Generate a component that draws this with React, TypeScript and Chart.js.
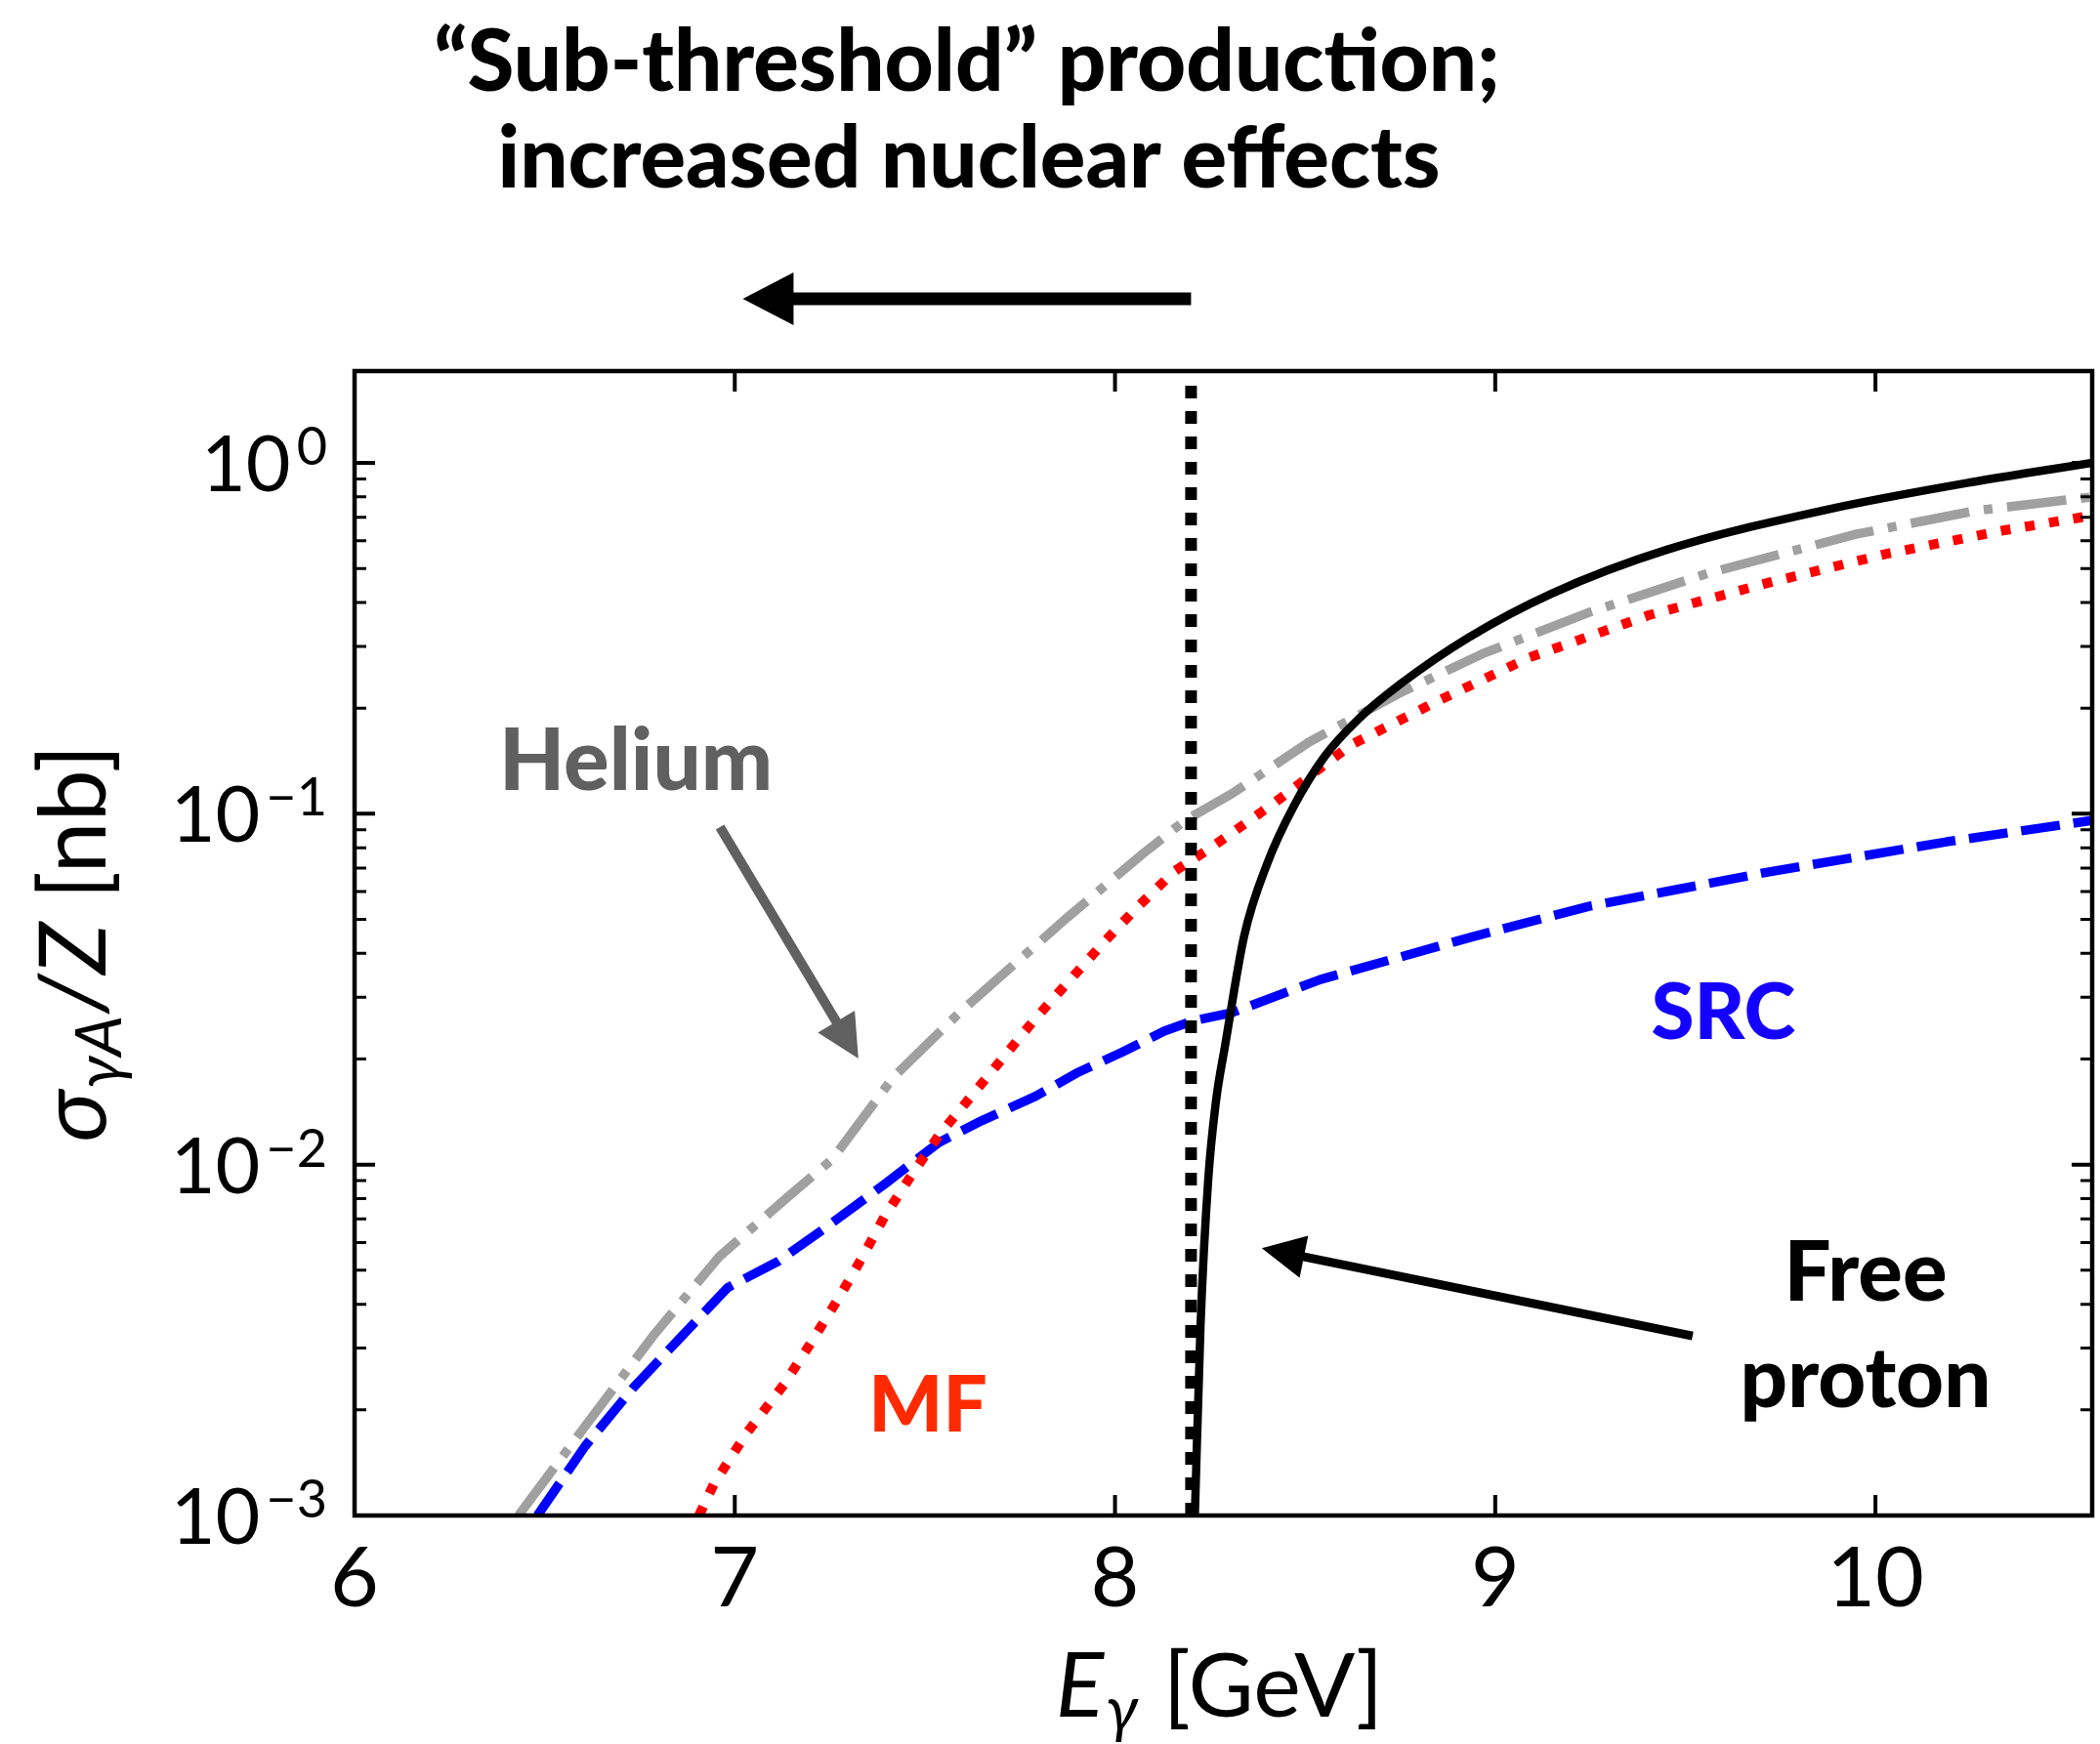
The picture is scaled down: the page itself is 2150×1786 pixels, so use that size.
import React, { useEffect, useRef } from "react";
import { Chart, registerables } from "chart.js";

Chart.register(...registerables);

// ---------- axis ranges & ticks ----------
const xMin = 6;
const xMax = 10.57;
const yMin = 1e-3;
const yMax = 1.827;
const xTickValues = [6, 7, 8, 9, 10];
const xTickLabels = ["6", "7", "8", "9", "10"];
const yTickExponents = [-3, -2, -1, 0];
const yTickExpLabels = ["\u22123", "\u22122", "\u22121", "0"];

// ---------- data ----------
const thresholdEnergy = [8.2, 8.2];
const thresholdSigma = [1e-3, 1.827];

const freeProtonEnergy = [8.21, 8.225, 8.245, 8.265, 8.29, 8.34, 8.4, 8.47, 8.55, 8.64, 8.75, 8.93, 9.15, 9.45, 9.87, 10.25, 10.57];
const freeProtonSigma = [0.001, 0.0035, 0.009, 0.015, 0.022, 0.045, 0.072, 0.105, 0.145, 0.186, 0.234, 0.318, 0.425, 0.565, 0.735, 0.88, 1.0];

const heliumEnergy = [6.431, 6.607, 6.79, 6.96, 7.143, 7.256, 7.418, 7.594, 7.876, 8.073, 8.185, 8.307, 8.51, 8.746, 8.964, 9.247, 9.56, 9.951, 10.264, 10.57];
const heliumSigma = [0.001, 0.0018, 0.0033, 0.00548, 0.00815, 0.01035, 0.0178, 0.0273, 0.0508, 0.0769, 0.0959, 0.114, 0.16, 0.22, 0.285, 0.375, 0.485, 0.627, 0.731, 0.8];

const mfEnergy = [6.906, 6.945, 7.03, 7.129, 7.199, 7.27, 7.333, 7.396, 7.467, 7.537, 7.622, 7.706, 7.791, 7.876, 7.974, 8.059, 8.157, 8.245, 8.417, 8.62, 8.854, 9.09, 9.404, 9.717, 10.03, 10.34, 10.57];
const mfSigma = [0.001, 0.00123, 0.00171, 0.00236, 0.00309, 0.00411, 0.00539, 0.00718, 0.00941, 0.01214, 0.01567, 0.0202, 0.0261, 0.0331, 0.0434, 0.0542, 0.0687, 0.079, 0.107, 0.157, 0.211, 0.279, 0.368, 0.455, 0.551, 0.643, 0.708];

const srcEnergy = [6.481, 6.607, 6.734, 6.981, 7.115, 7.241, 7.396, 7.537, 7.65, 7.791, 7.904, 8.016, 8.129, 8.2, 8.307, 8.54, 8.933, 9.247, 9.717, 10.187, 10.57];
const srcSigma = [0.001, 0.00158, 0.00232, 0.00446, 0.00531, 0.00664, 0.00883, 0.01157, 0.01335, 0.01567, 0.01835, 0.02085, 0.024, 0.0256, 0.0271, 0.0337, 0.0444, 0.0545, 0.0682, 0.0832, 0.0957];

// ---------- annotations (data coordinates) ----------
const titleLines = ["\u201CSub-threshold\u201D production;", "increased nuclear effects"];
const heliumLabel = { text: "Helium", x: 6.74, y: 0.1168 };
const srcLabel = { text: "SRC", x: 9.6, y: 0.0228 };
const mfLabel = { text: "MF", x: 7.508, y: 0.001734 };
const freeLabel = { text: "Free", x: 9.974, y: 0.00409 };
const protonLabel = { text: "proton", x: 9.974, y: 0.002037 };
const heliumArrow = { x1: 6.961, y1: 0.0916, x2: 7.325, y2: 0.02006 };
const freeArrow = { x1: 9.519, y1: 0.00325, x2: 8.386, y2: 0.00578 };
const topArrow = { x1: 8.2, y1: 2.935, x2: 7.021, y2: 2.935 };

const FONT = '"Lato", "Noto Sans", "DejaVu Sans", sans-serif';

const toPts = (xs: number[], ys: number[]) => xs.map((x, i) => ({ x, y: ys[i] }));

type Run = { text: string; font: string; dy?: number; dx?: number };

function drawRuns(ctx: CanvasRenderingContext2D, runs: Run[], cx: number, baseline: number) {
  const widths = runs.map((r) => {
    ctx.font = r.font;
    return ctx.measureText(r.text).width;
  });
  const total = widths.reduce((a, b) => a + b, 0) + runs.reduce((a, r) => a + (r.dx || 0), 0);
  let x = cx - total / 2;
  ctx.textAlign = "left";
  ctx.textBaseline = "alphabetic";
  runs.forEach((r, i) => {
    ctx.font = r.font;
    x += r.dx || 0;
    ctx.fillText(r.text, x, baseline + (r.dy || 0));
    x += widths[i];
  });
}

function drawArrow(
  ctx: CanvasRenderingContext2D,
  x1: number, y1: number, x2: number, y2: number,
  width: number, headLen: number, headHalf: number, color: string
) {
  const dx = x2 - x1;
  const dy = y2 - y1;
  const len = Math.hypot(dx, dy);
  const ux = dx / len;
  const uy = dy / len;
  const bx = x2 - ux * headLen;
  const by = y2 - uy * headLen;
  ctx.save();
  ctx.strokeStyle = color;
  ctx.fillStyle = color;
  ctx.lineWidth = width;
  ctx.lineCap = "butt";
  ctx.beginPath();
  ctx.moveTo(x1, y1);
  ctx.lineTo(bx + ux * 2, by + uy * 2);
  ctx.stroke();
  ctx.beginPath();
  ctx.moveTo(x2, y2);
  ctx.lineTo(bx - uy * headHalf, by + ux * headHalf);
  ctx.lineTo(bx + uy * headHalf, by - ux * headHalf);
  ctx.closePath();
  ctx.fill();
  ctx.restore();
}

const decorPlugin = {
  id: "decor",
  afterDraw(chart: any) {
    const ctx: CanvasRenderingContext2D = chart.ctx;
    const xs = chart.scales.x;
    const ys = chart.scales.y;
    const a = chart.chartArea;
    const X = (v: number) => xs.getPixelForValue(v);
    const Y = (v: number) => ys.getPixelForValue(v);
    ctx.save();

    // frame
    ctx.strokeStyle = "#000";
    ctx.lineWidth = 4.5;
    ctx.strokeRect(a.left, a.top, a.right - a.left, a.bottom - a.top);

    // major ticks
    ctx.lineWidth = 4;
    ctx.beginPath();
    xTickValues.forEach((v) => {
      const px = X(v);
      ctx.moveTo(px, a.bottom);
      ctx.lineTo(px, a.bottom - 21);
      ctx.moveTo(px, a.top);
      ctx.lineTo(px, a.top + 21);
    });
    yTickExponents.forEach((e) => {
      const py = Y(Math.pow(10, e));
      ctx.moveTo(a.left, py);
      ctx.lineTo(a.left + 21, py);
      ctx.moveTo(a.right, py);
      ctx.lineTo(a.right - 21, py);
    });
    ctx.stroke();

    // minor ticks
    ctx.lineWidth = 3;
    ctx.beginPath();
    yTickExponents.forEach((e) => {
      for (let k = 2; k <= 9; k++) {
        const v = k * Math.pow(10, e);
        if (v > yMax) continue;
        const py = Y(v);
        ctx.moveTo(a.left, py);
        ctx.lineTo(a.left + 12, py);
        ctx.moveTo(a.right, py);
        ctx.lineTo(a.right - 12, py);
      }
    });
    ctx.stroke();

    ctx.fillStyle = "#000";
    // x tick labels
    ctx.font = `400 86px ${FONT}`;
    ctx.textAlign = "center";
    ctx.textBaseline = "alphabetic";
    xTickValues.forEach((v, i) => {
      ctx.fillText(xTickLabels[i], X(v), a.bottom + 93);
    });

    // y tick labels 10^n
    yTickExponents.forEach((e, i) => {
      const py = Y(Math.pow(10, e));
      const right = a.left - 28;
      ctx.font = `400 54px ${FONT}`;
      const wExp = ctx.measureText(yTickExpLabels[i]).width;
      ctx.textAlign = "left";
      ctx.fillText(yTickExpLabels[i], right - wExp, py + 2);
      ctx.font = `400 79px ${FONT}`;
      ctx.textAlign = "right";
      ctx.fillText("10", right - wExp - 6, py + 29);
    });

    // x axis title
    drawRuns(
      ctx,
      [
        { text: "E", font: `italic 400 92px ${FONT}` },
        { text: "\u03B3", font: `italic 400 65px ${FONT}`, dy: 15, dx: 2 },
        { text: " [GeV]", font: `400 92px ${FONT}`, dx: 2 },
      ],
      (a.left + a.right) / 2 - 4,
      1758
    );

    // y axis title
    ctx.save();
    ctx.translate(108, (a.top + a.bottom) / 2);
    ctx.rotate(-Math.PI / 2);
    drawRuns(
      ctx,
      [
        { text: "\u03C3", font: `italic 400 95px ${FONT}` },
        { text: "\u03B3A", font: `italic 400 66px ${FONT}`, dy: 16, dx: 2 },
        { text: "/Z", font: `italic 400 95px ${FONT}`, dx: 2 },
        { text: " [nb]", font: `400 95px ${FONT}` },
      ],
      0,
      0
    );
    ctx.restore();

    // title
    ctx.fillStyle = "#000";
    ctx.font = `900 87px ${FONT}`;
    ctx.textAlign = "center";
    ctx.fillText(titleLines[0], 990, 93);
    ctx.fillText(titleLines[1], 992, 192);

    // annotation labels
    const label = (l: { text: string; x: number; y: number }, color: string, size: number) => {
      ctx.fillStyle = color;
      ctx.font = `900 ${size}px ${FONT}`;
      ctx.textAlign = "center";
      ctx.fillText(l.text, X(l.x), Y(l.y));
    };
    label(heliumLabel, "#606060", 87);
    label(srcLabel, "#1400ff", 80);
    label(mfLabel, "#ff2a00", 80);
    label(freeLabel, "#000000", 85);
    label(protonLabel, "#000000", 85);

    // arrows
    drawArrow(ctx, X(heliumArrow.x1), Y(heliumArrow.y1), X(heliumArrow.x2), Y(heliumArrow.y2), 10, 44, 22, "#606060");
    drawArrow(ctx, X(freeArrow.x1), Y(freeArrow.y1), X(freeArrow.x2), Y(freeArrow.y2), 9, 44, 22, "#000000");
    drawArrow(ctx, X(topArrow.x1), Y(topArrow.y1), X(topArrow.x2), Y(topArrow.y2), 13, 52, 27, "#000000");

    ctx.restore();
  },
};

export default function App() {
  const canvasRef = useRef<HTMLCanvasElement | null>(null);

  useEffect(() => {
    const canvas = canvasRef.current;
    if (!canvas) return;
    const chart = new Chart(canvas, {
      type: "line",
      data: {
        datasets: [
          {
            label: "Threshold",
            data: toPts(thresholdEnergy, thresholdSigma),
            borderColor: "#000000",
            borderWidth: 12,
            borderDash: [13, 13],
            borderCapStyle: "butt",
            pointRadius: 0,
            order: 0,
          },
          {
            label: "Free proton",
            data: toPts(freeProtonEnergy, freeProtonSigma),
            borderColor: "#000000",
            borderWidth: 8.5,
            cubicInterpolationMode: "monotone",
            pointRadius: 0,
            order: 1,
          },
          {
            label: "Helium",
            data: toPts(heliumEnergy, heliumSigma),
            borderColor: "#a0a0a0",
            borderWidth: 9.5,
            borderDash: [61, 15, 9, 15],
            borderCapStyle: "butt",
            pointRadius: 0,
            order: 2,
          },
          {
            label: "MF",
            data: toPts(mfEnergy, mfSigma),
            borderColor: "#ff0000",
            borderWidth: 10,
            borderDash: [10, 15],
            borderCapStyle: "butt",
            pointRadius: 0,
            order: 3,
          },
          {
            label: "SRC",
            data: toPts(srcEnergy, srcSigma),
            borderColor: "#0000ff",
            borderWidth: 9.5,
            borderDash: [40, 14],
            borderCapStyle: "butt",
            pointRadius: 0,
            order: 4,
          },
        ],
      },
      options: {
        responsive: false,
        animation: false,
        devicePixelRatio: 1,
        events: [],
        layout: { padding: { left: 363, right: 8, top: 380, bottom: 234 } },
        plugins: {
          legend: { display: false },
          tooltip: { enabled: false },
          title: { display: false },
        },
        elements: {
          line: { tension: 0, fill: false, borderJoinStyle: "round" },
          point: { radius: 0 },
        },
        scales: {
          x: { type: "linear", min: xMin, max: xMax, display: false },
          y: { type: "logarithmic", min: yMin, max: yMax, display: false },
        },
      } as any,
      plugins: [decorPlugin],
    });
    return () => chart.destroy();
  }, []);

  return (
    <div style={{ position: "fixed", left: 0, top: 0, width: 2150, height: 1786, background: "#fff" }}>
      <canvas ref={canvasRef} width={2150} height={1786} style={{ display: "block" }} />
    </div>
  );
}
